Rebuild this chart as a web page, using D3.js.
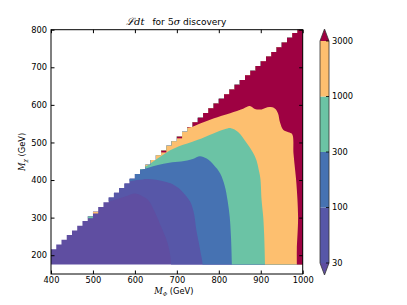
<!DOCTYPE html>
<html><head><meta charset="utf-8">
<script src="https://cdn.jsdelivr.net/npm/d3@7"></script>
<style>
body{margin:0;background:#fff}
svg text{font-family:"DejaVu Sans",sans-serif;font-size:8.3px;fill:#000}
.math{font-family:"DejaVu Serif",serif;font-style:italic}
</style></head><body>
<svg id="chart" width="407" height="305"></svg>
<script>
const levels = [30, 100, 300, 1000, 3000];
// under, 30-100, 100-300, 300-1000, 1000-3000, over
const bandColors = ['#5f4ea1', '#5757a8', '#4672b2', '#6bc3a5', '#fdbf6f', '#9e0142'];
const xTicks = [400, 500, 600, 700, 800, 900, 1000];
const yTicks = [200, 300, 400, 500, 600, 700, 800];

// contour lines [M_Phi, M_chi], from the kinematic edge down to the bottom row
const line30 = [[518, 342], [540, 344], [560, 350], [582, 358], [600, 364], [616, 358], [632, 346], [646, 318], [661, 280], [674, 245], [682, 214], [686, 180], [686, 160]];
const line100 = [[566, 392], [585, 396], [605, 400], [630, 403], [650, 401], [670, 396], [690, 389], [705, 378], [718, 363], [732, 342], [741, 310], [746, 270], [752, 235], [757, 205], [761, 180], [761, 160]];
const line300 = [[594, 422], [612, 426], [632, 433], [655, 440], [682, 446], [710, 449], [738, 456], [755, 463], [771, 457], [788, 440], [803, 418], [814, 385], [821, 345], [826, 302], [829, 250], [831, 180], [831, 160]];
const line1000 = [[606, 432], [622, 434], [642, 448], [662, 463], [684, 479], [705, 490], [725, 497], [750, 507], [787, 524], [814, 535], [829, 538], [846, 528], [866, 499], [881, 474], [890, 452], [895, 428], [899, 405], [902, 347], [906, 300], [908, 258], [910, 180], [910, 160]];
const line3000 = [[712, 538], [735, 541], [757, 551], [787, 564], [827, 578], [858, 590], [874, 597], [886, 589], [902, 588], [920, 594], [934, 590], [941, 578], [946, 553], [954, 533], [966, 527], [975, 522], [978, 471], [982, 426], [985, 391], [989, 302], [986, 214], [986, 180], [986, 160]];
const contourLines = [line30, line100, line300, line1000, line3000];

// stray cells along the kinematic edge: [column left edge, band index]
const edgeSpecks = [[487.5, 3], [500, 4], [662.5, 5], [700, 5]];

const gridStep = 12.5, chiMin = 175, massGap = 184;

const svg = d3.select('#chart');
const x = d3.scaleLinear([400, 1000], [51, 302.7]);
const y = d3.scaleLinear([150, 800], [274, 29.7]);

// staircase of valid (M_Phi, M_chi) cells
const cols = d3.range(400, 1000, gridStep);
const colTop = p => Math.min(800, p - massGap);
const stair = [[400, chiMin]];
cols.forEach(p => { stair.push([p, colTop(p)], [p + gridStep, colTop(p)]); });
stair.push([1000, chiMin]);

svg.append('clipPath').attr('id', 'dataClip')
  .append('path')
  .attr('d', d3.line().x(d => x(d[0])).y(d => y(d[1]))(stair) + 'Z');

const plot = svg.append('g').attr('clip-path', 'url(#dataClip)');

plot.append('rect')
  .attr('x', x(400)).attr('y', y(800))
  .attr('width', x(1000) - x(400)).attr('height', y(150) - y(800))
  .attr('fill', bandColors[0]);

const smooth = d3.line().x(d => x(d[0])).y(d => y(d[1])).curve(d3.curveCatmullRom.alpha(0.5));
function regionPath(pts) {
  const first = pts[0], last = pts[pts.length - 1];
  const close = [[last[0], 140], [1100, 140], [1100, 900], [first[0], 900]];
  return smooth(pts) + close.map(d => `L${x(d[0])},${y(d[1])}`).join('') + 'Z';
}

plot.selectAll('path.band')
  .data(contourLines)
  .join('path')
  .attr('class', 'band')
  .attr('d', regionPath)
  .attr('fill', (d, i) => bandColors[i + 1]);

plot.selectAll('rect.speck')
  .data(edgeSpecks)
  .join('rect')
  .attr('class', 'speck')
  .attr('x', d => x(d[0]))
  .attr('width', x(400 + gridStep) - x(400))
  .attr('y', d => y(colTop(d[0])))
  .attr('height', y(0) - y(5))
  .attr('fill', d => bandColors[d[1]]);

// ticks pointing inward on all four sides
const tickLen = 3.5;
svg.append('g').attr('transform', `translate(0,${y(150)})`)
  .call(d3.axisBottom(x).tickValues(xTicks).tickSizeInner(-tickLen).tickSizeOuter(0).tickPadding(3).tickFormat(d3.format('d')))
  .call(g => g.select('.domain').remove());
svg.append('g').attr('transform', `translate(0,${y(800)})`)
  .call(d3.axisTop(x).tickValues(xTicks).tickSizeInner(-tickLen).tickSizeOuter(0).tickFormat(''))
  .call(g => g.select('.domain').remove());
svg.append('g').attr('transform', `translate(${x(400)},0)`)
  .call(d3.axisLeft(y).tickValues(yTicks).tickSizeInner(-tickLen).tickSizeOuter(0).tickPadding(4).tickFormat(d3.format('d')))
  .call(g => g.select('.domain').remove());
svg.append('g').attr('transform', `translate(${x(1000)},0)`)
  .call(d3.axisRight(y).tickValues(yTicks).tickSizeInner(-tickLen).tickSizeOuter(0).tickFormat(''))
  .call(g => g.select('.domain').remove());
svg.selectAll('.tick text').attr('font-size', 8.3).attr('font-family', '"DejaVu Sans",sans-serif').attr('fill', '#000');
svg.selectAll('.tick line').attr('stroke', '#000');

svg.append('rect')
  .attr('x', x(400)).attr('y', y(800))
  .attr('width', x(1000) - x(400)).attr('height', y(150) - y(800))
  .attr('fill', 'none').attr('stroke', '#000').attr('stroke-width', 1);

// title and axis labels
const title = svg.append('text').attr('x', 126).attr('y', 25).style('font-size', '9px');
title.append('tspan').attr('class', 'math').style('font-size', '10px').text('ℒdt');
title.append('tspan').attr('dx', 8).text('for ');
title.append('tspan').attr('class', 'math').style('font-style', 'normal').style('font-size', '9.5px').text('5');
title.append('tspan').attr('class', 'math').style('font-size', '9.5px').text('σ');
title.append('tspan').text(' discovery');

const xl = svg.append('text').attr('x', (x(400) + x(1000)) / 2 - 3).attr('y', 294).attr('text-anchor', 'middle');
xl.append('tspan').attr('class', 'math').text('M');
xl.append('tspan').attr('class', 'math').attr('font-size', 5.5).attr('dy', 2).text('Φ');
xl.append('tspan').attr('dy', -2).text('  (GeV)');

const yl = svg.append('text').attr('transform', `translate(25,${(y(150) + y(800)) / 2}) rotate(-90)`).attr('text-anchor', 'middle');
yl.append('tspan').attr('class', 'math').text('M');
yl.append('tspan').attr('class', 'math').attr('font-size', 5.5).attr('dy', 2).text('χ');
yl.append('tspan').attr('dy', -2).text('  (GeV)');

// colorbar with extensions at both ends
const cbX = 320, cbW = 9, triH = 12;
const cb = d3.scaleLinear([0, levels.length - 1], [263, 41]);
const cbG = svg.append('g');
cbG.selectAll('rect')
  .data(d3.range(levels.length - 1))
  .join('rect')
  .attr('x', cbX).attr('width', cbW)
  .attr('y', i => cb(i + 1)).attr('height', i => cb(i) - cb(i + 1))
  .attr('fill', i => bandColors[i + 1]);
const lo = cb(0), hi = cb(levels.length - 1);
cbG.append('path').attr('d', `M${cbX},${lo}L${cbX + cbW / 2},${lo + triH}L${cbX + cbW},${lo}Z`).attr('fill', bandColors[0]);
cbG.append('path').attr('d', `M${cbX},${hi}L${cbX + cbW / 2},${hi - triH}L${cbX + cbW},${hi}Z`).attr('fill', bandColors[5]);
cbG.append('path')
  .attr('d', `M${cbX},${hi}L${cbX + cbW / 2},${hi - triH}L${cbX + cbW},${hi}L${cbX + cbW},${lo}L${cbX + cbW / 2},${lo + triH}L${cbX},${lo}Z`)
  .attr('fill', 'none').attr('stroke', '#333').attr('stroke-width', 0.8);
cbG.selectAll('line.cbtick')
  .data(levels)
  .join('line')
  .attr('class', 'cbtick')
  .attr('x1', cbX + cbW).attr('x2', cbX + cbW - 3)
  .attr('y1', (d, i) => cb(i)).attr('y2', (d, i) => cb(i))
  .attr('stroke', '#000').attr('stroke-width', 0.8);
cbG.selectAll('text')
  .data(levels)
  .join('text')
  .attr('x', cbX + cbW + 3)
  .attr('y', (d, i) => cb(i))
  .attr('dy', '0.35em')
  .text(d => d);
</script>
</body></html>
